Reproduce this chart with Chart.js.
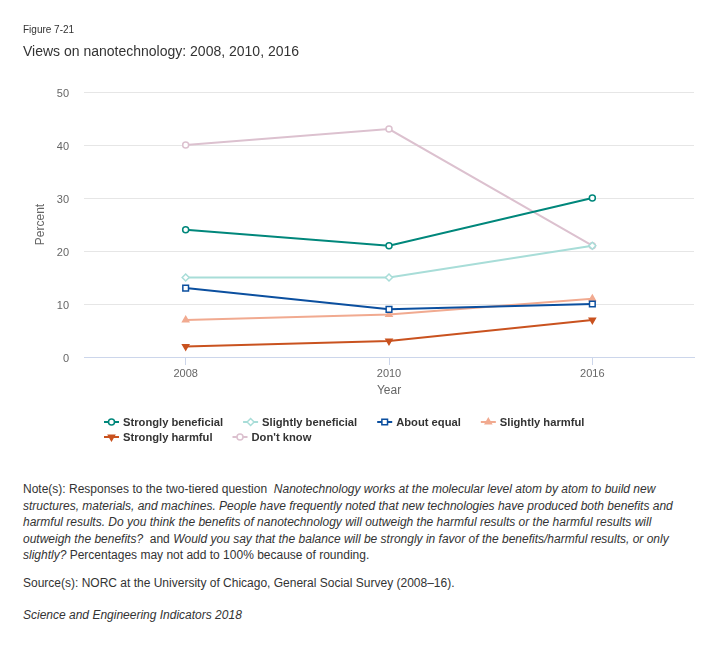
<!DOCTYPE html>
<html>
<head>
<meta charset="utf-8">
<script src="https://cdn.jsdelivr.net/npm/chart.js@4.4.0/dist/chart.umd.min.js"></script>
<style>
  body { margin: 0; background: #fff; font-family: "Liberation Sans", Arial, sans-serif; color: #333; }
  #wrap { position: relative; width: 724px; height: 646px; overflow: hidden; }
  #chartBox { position: absolute; left: 0; top: 0; }
  .txt { position: absolute; left: 23px; white-space: nowrap; }
  #fig { top: 24px; font-size: 10px; line-height: 12px; }
  #title { top: 43px; font-size: 14px; line-height: 16px; }
  #notes { top: 481px; font-size: 12px; line-height: 16.6px; }
  #source { top: 575px; font-size: 12px; line-height: 16.6px; }
  #sei { top: 607px; font-size: 12px; line-height: 16.6px; font-style: italic; }
</style>
</head>
<body>
<div id="wrap">
  <canvas id="chartBox" width="724" height="460"></canvas>
  <div class="txt" id="fig">Figure 7-21</div>
  <div class="txt" id="title">Views on nanotechnology: 2008, 2010, 2016</div>
  <div class="txt" id="notes">Note(s): Responses to the two-tiered question &nbsp;<i>Nanotechnology works at the molecular level atom by atom to build new</i><br><i>structures, materials, and machines. People have frequently noted that new technologies have produced both benefits and</i><br><i>harmful results. Do you think the benefits of nanotechnology will outweigh the harmful results or the harmful results will</i><br><i>outweigh the benefits?</i> &nbsp;and <i>Would you say that the balance will be strongly in favor of the benefits/harmful results, or only</i><br><i>slightly?</i> Percentages may not add to 100% because of rounding.</div>
  <div class="txt" id="source">Source(s): NORC at the University of Chicago, General Social Survey (2008–16).</div>
  <div class="txt" id="sei">Science and Engineering Indicators 2018</div>
</div>
<script>
// Survey years (x categories)
const years = ['2008', '2010', '2016'];

// Percent of respondents per answer
const stronglyBeneficial = [24, 21, 30];
const slightlyBeneficial = [15, 15, 21];
const aboutEqual = [13, 9, 10];
const slightlyHarmful = [7, 8, 11];
const stronglyHarmful = [2, 3, 7];
const dontKnow = [40, 43, 21];

// Y axis range / step
const yMin = 0, yMax = 50, yStep = 10;

const FONT = '"Liberation Sans", Arial, sans-serif';

function series(label, data, color, style, opts) {
    return Object.assign({
        label: label,
        data: data,
        borderColor: color,
        borderWidth: 2,
        pointStyle: style,
        pointRadius: 3,
        pointHoverRadius: 3,
        pointBorderWidth: 1.5,
        pointBorderColor: color,
        pointBackgroundColor: '#fff',
        pointRotation: 0,
        tension: 0,
        fill: false
    }, opts || {});
}

const datasets = [
    series('Strongly beneficial', stronglyBeneficial, '#00877b', 'circle'),
    series('Slightly beneficial', slightlyBeneficial, '#a8ddd8', 'rectRot', {pointRadius: 3.5}),
    series('About equal', aboutEqual, '#0b4f9f', 'rect', {pointRadius: 4}),
    series('Slightly harmful', slightlyHarmful, '#f1aa90', 'triangle', {pointBackgroundColor: '#f1aa90', pointRadius: 3.5}),
    series('Strongly harmful', stronglyHarmful, '#c9521f', 'triangle', {pointBackgroundColor: '#c9521f', pointRadius: 3.5, pointRotation: 180}),
    series("Don't know", dontKnow, '#dcc1cf', 'circle')
];

// Legend laid out left-to-right, wrapping, like the source figure
const flowLegend = {
    id: 'flowLegend',
    afterDraw(chart) {
        const ctx = chart.ctx;
        const left = 104, right = 694, rowH = 15;
        let x = left, y = 422;
        ctx.save();
        ctx.font = 'bold 11.2px ' + FONT;
        ctx.textBaseline = 'middle';
        ctx.textAlign = 'left';
        chart.data.datasets.forEach(ds => {
            const w = 19 + ctx.measureText(ds.label).width;
            if (x + w > right) { x = left; y += rowH; }
            ctx.strokeStyle = ds.borderColor;
            ctx.lineWidth = 2;
            ctx.beginPath();
            ctx.moveTo(x, y);
            ctx.lineTo(x + 15, y);
            ctx.stroke();
            ctx.fillStyle = ds.pointBackgroundColor;
            ctx.lineWidth = ds.pointBorderWidth;
            Chart.helpers.drawPoint(ctx, {
                pointStyle: ds.pointStyle,
                rotation: ds.pointRotation,
                radius: ds.pointRadius,
                borderWidth: ds.pointBorderWidth
            }, x + 7.5, y);
            ctx.fillStyle = '#333';
            ctx.fillText(ds.label, x + 19, y + 0.5);
            x += w + 20;
        });
        ctx.restore();
    }
};

new Chart('chartBox', {
    type: 'line',
    data: { labels: years, datasets: datasets },
    plugins: [flowLegend],
    options: {
        responsive: false,
        animation: false,
        layout: { padding: { top: 92, right: 30, bottom: 58, left: 0 } },
        plugins: {
            legend: { display: false },
            tooltip: { enabled: false }
        },
        scales: {
            x: {
                offset: true,
                grid: { offset: false, drawOnChartArea: false, color: '#ccd6eb', tickLength: 8, lineWidth: 1 },
                border: { color: '#ccd6eb' },
                ticks: { color: '#666', font: { size: 11, family: FONT }, padding: 2, maxRotation: 0 },
                title: { display: true, text: 'Year', color: '#666', font: { size: 12, family: FONT }, padding: { top: 0, bottom: 4 } },
                afterFit(s) { s.height = 45; }
            },
            y: {
                min: yMin,
                max: yMax,
                ticks: { stepSize: yStep, color: '#666', font: { size: 11, family: FONT }, padding: 15, labelOffset: 1.5 },
                grid: { color: '#e6e6e6', drawTicks: false },
                border: { display: false },
                title: { display: true, text: 'Percent', color: '#666', font: { size: 12, family: FONT }, padding: { top: 33, bottom: 0 } },
                afterFit(s) { s.width = 84; }
            }
        }
    }
});
</script>
</body>
</html>
